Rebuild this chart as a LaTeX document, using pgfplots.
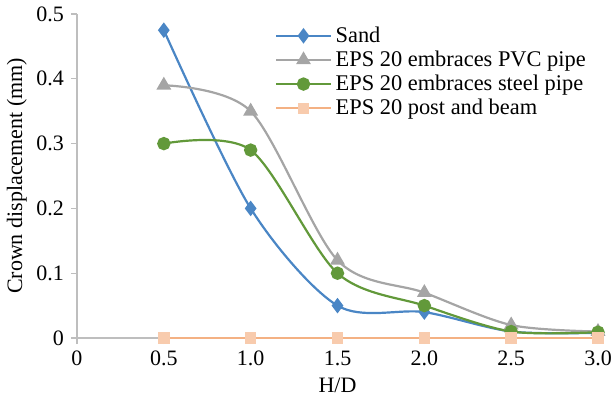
\documentclass[border=0pt]{standalone}
\usepackage{fontspec}
\setmainfont{Liberation Serif}
\usepackage{pgfplots}
\pgfplotsset{compat=1.18}
\definecolor{cBlue}{RGB}{74,134,197}
\definecolor{cGrey}{RGB}{165,165,165}
\definecolor{cGreen}{RGB}{98,153,58}
\definecolor{cOrange}{RGB}{244,177,131}
\definecolor{cOrangeF}{RGB}{248,203,173}
\definecolor{axGrey}{RGB}{190,190,190}
\begin{document}
\begin{tikzpicture}
\begin{axis}[
  scale only axis, width=260.5pt, height=162pt,
  at={(0,0)}, anchor=south west,
  xmin=0, xmax=3, ymin=0, ymax=0.5,
  axis lines=left, axis line style={draw=axGrey, line width=0.6pt, -},
  xtick={0,0.5,1,1.5,2,2.5,3}, xticklabels={0,0.5,1.0,1.5,2.0,2.5,3.0},
  ytick={0,0.1,0.2,0.3,0.4,0.5}, yticklabels={0,0.1,0.2,0.3,0.4,0.5},
  tick style={draw=axGrey, line width=0.6pt}, tick align=outside, major tick length=3pt,
  tick label style={font=\fontsize{11}{12}\selectfont, text=black},
  /pgf/number format/assume math mode=true,
  label style={font=\fontsize{11}{12}\selectfont},
  xlabel={H/D}, ylabel={Crown displacement (mm)},
  xlabel style={yshift=1pt},
  ylabel style={yshift=-2pt},
  legend style={draw=none, fill=none, at={(0.38,0.975)}, anchor=north west,
    font=\fontsize{11.2}{12}\selectfont, row sep=-1.2pt, inner sep=0pt},
  legend cell align=left,
  legend image code/.code={\draw[#1] (0cm,0cm) -- (0.95cm,0cm); \draw[#1, only marks] plot coordinates {(0.475cm,0cm)};},
  every axis plot/.append style={line width=1.1pt, smooth, tension=0.5},
  clip=false,
]
\addplot[color=cBlue, mark=diamond*, mark size=3pt, mark options={fill=cBlue, draw=cBlue}] coordinates {(0.5,0.475) (1.0,0.2) (1.5,0.05) (2.0,0.04) (2.5,0.01) (3.0,0.008)};
\addlegendentry{Sand}
\addplot[color=cGrey, mark=triangle*, mark size=3.2pt, mark options={fill=cGrey, draw=cGrey}] coordinates {(0.5,0.39) (1.0,0.35) (1.5,0.12) (2.0,0.07) (2.5,0.02) (3.0,0.01)};
\addlegendentry{EPS 20 embraces PVC pipe}
\addplot[color=cGreen, mark=*, mark size=2.8pt, mark options={fill=cGreen, draw=cGreen}] coordinates {(0.5,0.30) (1.0,0.29) (1.5,0.10) (2.0,0.05) (2.5,0.01) (3.0,0.009)};
\addlegendentry{EPS 20 embraces steel pipe}
\addplot[color=cOrange, mark=square*, mark size=2.3pt, mark options={fill=cOrangeF, draw=cOrangeF}] coordinates {(0.5,0) (1.0,0) (1.5,0) (2.0,0) (2.5,0) (3.0,0)};
\addlegendentry{EPS 20 post and beam}
\end{axis}
\pgfresetboundingbox
\path[use as bounding box] (-38.5pt,-32.5pt) rectangle (268.5pt,169pt);
\end{tikzpicture}
\end{document}
